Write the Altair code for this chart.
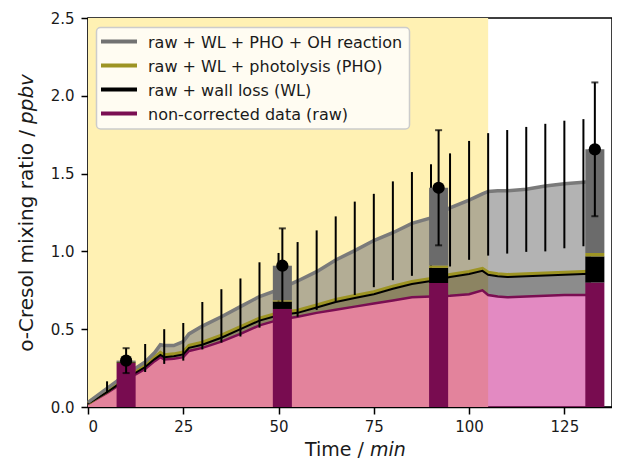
import altair as alt
import pandas as pd

# ---------------- data ----------------
t_series = [0, 2.5, 5, 7.5, 10, 12.5, 15, 17.5, 19, 20, 22.5, 25, 26.5, 30, 35, 40, 45, 50, 55, 60,
            65, 70, 75, 80, 85, 90, 95, 100, 103.5, 105, 107.5, 110, 115, 120, 125, 130, 132]
raw = [0.02, 0.055, 0.09, 0.13, 0.17, 0.21, 0.245, 0.295, 0.32, 0.305, 0.31, 0.32, 0.36, 0.38, 0.42,
       0.47, 0.525, 0.56, 0.58, 0.605, 0.625, 0.645, 0.665, 0.685, 0.705, 0.71, 0.715, 0.725, 0.75,
       0.72, 0.71, 0.705, 0.71, 0.715, 0.72, 0.72, 0.72]
wl = [0.021, 0.058, 0.095, 0.137, 0.178, 0.22, 0.257, 0.308, 0.335, 0.32, 0.326, 0.338, 0.38, 0.40,
      0.445, 0.50, 0.555, 0.59, 0.605, 0.64, 0.675, 0.70, 0.725, 0.76, 0.79, 0.81, 0.835, 0.855, 0.875,
      0.85, 0.84, 0.835, 0.84, 0.845, 0.85, 0.855, 0.857]
pho = [0.022, 0.062, 0.10, 0.145, 0.188, 0.232, 0.27, 0.321, 0.349, 0.334, 0.34, 0.352, 0.395, 0.415,
       0.46, 0.515, 0.57, 0.605, 0.62, 0.655, 0.69, 0.715, 0.74, 0.775, 0.805, 0.825, 0.85, 0.87, 0.89,
       0.865, 0.855, 0.85, 0.855, 0.86, 0.865, 0.87, 0.872]
oh = [0.03, 0.075, 0.12, 0.165, 0.21, 0.25, 0.29, 0.35, 0.40, 0.395, 0.395, 0.42, 0.47, 0.52, 0.58,
      0.645, 0.71, 0.755, 0.81, 0.87, 0.945, 1.005, 1.07, 1.12, 1.18, 1.215, 1.28, 1.33, 1.37, 1.385,
      1.39, 1.39, 1.40, 1.42, 1.435, 1.445, 1.45]

err_t = [5, 15, 20, 25, 30, 35, 40, 45, 50, 55, 60, 65, 70, 75, 80, 85, 90, 95, 100, 105, 110, 115,
         120, 125, 130]
err_lo = [0.09, 0.225, 0.277, 0.298, 0.37, 0.414, 0.453, 0.51, 0.55, 0.58, 0.624, 0.678, 0.72, 0.77,
          0.815, 0.843, 0.87, 0.903, 0.946, 0.973, 0.986, 0.997, 1.0, 1.02, 1.033]
err_hi = [0.165, 0.405, 0.50, 0.54, 0.675, 0.757, 0.826, 0.93, 0.99, 1.06, 1.135, 1.225, 1.32, 1.37,
          1.45, 1.51, 1.56, 1.63, 1.71, 1.76, 1.78, 1.80, 1.82, 1.84, 1.85]

bar_t = [10, 51, 92, 133]
bar_raw = [0.283, 0.63, 0.797, 0.80]
bar_wl = [0.288, 0.678, 0.894, 0.968]
bar_pho = [0.29, 0.686, 0.91, 0.99]
bar_oh = [0.298, 0.908, 1.409, 1.656]
pt_err = [0.08, 0.24, 0.37, 0.43]
bar_half = 2.5

shade_start = [0]
shade_end = [105]

legend_labels = ["raw + WL + PHO + OH reaction", "raw + WL + photolysis (PHO)",
                 "raw + wall loss (WL)", "non-corrected data (raw)"]
legend_colors = ["#727272", "#9d9424", "#000000", "#7a0e52"]

x_ticks = [0, 25, 50, 75, 100, 125]
y_ticks = [0, 0.5, 1.0, 1.5, 2.0, 2.5]

# ---------------- layout ----------------
W, H = 524, 389
XMAX, YMAX = 137.5, 2.5
FONT = "DejaVu Sans"
C_RAW_LINE = "#7a0e52"
C_OLIVE = "#9d9424"
C_GRAY_LINE = "#7a7a7a"

xscale = alt.Scale(domain=[0, XMAX], nice=False, zero=False)
yscale = alt.Scale(domain=[0, YMAX], nice=False)
xaxis = alt.Axis(values=x_ticks, title=None, format="d", labelPadding=5)
yaxis = alt.Axis(values=y_ticks, title=None, format=".1f", labelPadding=7)


def X(f):
    return alt.X(f, type="quantitative", scale=xscale, axis=xaxis, title=None)


def Y(f):
    return alt.Y(f, type="quantitative", scale=yscale, axis=yaxis, title=None)


series = pd.DataFrame({"t": t_series, "raw": raw, "wl": wl, "pho": pho, "oh": oh, "zero": 0.0})
errs = pd.DataFrame({"t": err_t, "lo": err_lo, "hi": err_hi})

seg_rows = []
seg_names = ["raw", "wl", "pho", "oh"]
for i, t in enumerate(bar_t):
    levels = [0.0, bar_raw[i], bar_wl[i], bar_pho[i], bar_oh[i]]
    for k, name in enumerate(seg_names):
        seg_rows.append({"x0": t - bar_half, "x1": t + bar_half, "lo": levels[k],
                         "hi": levels[k + 1], "seg": name})
bars = pd.DataFrame(seg_rows)
pts = pd.DataFrame({"t": bar_t, "v": bar_oh,
                    "lo": [v - e for v, e in zip(bar_oh, pt_err)],
                    "hi": [v + e for v, e in zip(bar_oh, pt_err)]})
shade = pd.DataFrame({"s": shade_start, "e": shade_end})

# background shade
bg = alt.Chart(shade).mark_rect(color="#fff1b3").encode(
    x=X("s"), x2="e", y=alt.value(0), y2=alt.value(H))

base = alt.Chart(series)
area_raw = base.mark_area(color="mediumvioletred", opacity=0.5).encode(x=X("t"), y=Y("zero"), y2="raw")
area_wl = base.mark_area(color="#000000", opacity=0.45).encode(x=X("t"), y=Y("raw"), y2="wl")
area_pho = base.mark_area(color=C_OLIVE, opacity=0.6).encode(x=X("t"), y=Y("wl"), y2="pho")
area_oh = base.mark_area(color="#808080", opacity=0.6).encode(x=X("t"), y=Y("pho"), y2="oh")

line_raw = base.mark_line(color=C_RAW_LINE, strokeWidth=2.5).encode(x=X("t"), y=Y("raw"))
line_pho = base.mark_line(color=C_OLIVE, strokeWidth=3.5).encode(x=X("t"), y=Y("pho"))
line_wl = base.mark_line(color="#000000", strokeWidth=2).encode(x=X("t"), y=Y("wl"))
line_oh = base.mark_line(color=C_GRAY_LINE, strokeWidth=3.5).encode(x=X("t"), y=Y("oh"))

err_rules = alt.Chart(errs).mark_rule(color="black", strokeWidth=2).encode(
    x=X("t"), y=Y("lo"), y2="hi")

bar_layer = alt.Chart(bars).mark_rect().encode(
    x=X("x0"), x2="x1", y=Y("lo"), y2="hi",
    color=alt.Color("seg:N", scale=alt.Scale(domain=seg_names,
                                             range=["#780c50", "#000000", C_OLIVE, "#6b6b6b"]),
                    legend=None))

pt_rules = alt.Chart(pts).mark_rule(color="black", strokeWidth=2).encode(x=X("t"), y=Y("lo"), y2="hi")
cap_lo = alt.Chart(pts).mark_tick(color="black", orient="horizontal", size=7, thickness=2).encode(
    x=X("t"), y=Y("lo"))
cap_hi = alt.Chart(pts).mark_tick(color="black", orient="horizontal", size=7, thickness=2).encode(
    x=X("t"), y=Y("hi"))
points = alt.Chart(pts).mark_circle(color="black", size=150, opacity=1).encode(x=X("t"), y=Y("v"))

# legend (drawn by hand so that the line symbols are long like the original)
one = pd.DataFrame({"a": [0]})
legend_layers = [
    alt.Chart(one).mark_rect(fill="#fffcf2", stroke="#cccccc", strokeWidth=1.5, cornerRadius=4).encode(
        x=alt.value(8.5), x2=alt.value(321.5), y=alt.value(9.5), y2=alt.value(111))
]
row_y = [23.5, 47.5, 71.5, 95.5]
for lab, col, ry in zip(legend_labels, legend_colors, row_y):
    legend_layers.append(alt.Chart(one).mark_rule(color=col, strokeWidth=4).encode(
        x=alt.value(13), x2=alt.value(49), y=alt.value(ry)))
    legend_layers.append(alt.Chart(one).mark_text(align="left", baseline="middle", font=FONT,
                                                  fontSize=16, color="#1a1a1a").encode(
        x=alt.value(60), y=alt.value(ry + 1), text=alt.value(lab)))

# axis titles with italic units
xt_split = 282
x_title_y = 438
y_split = 106
titles = [
    alt.Chart(one).mark_text(align="right", baseline="alphabetic", font=FONT, fontSize=19,
                             color="#1a1a1a").encode(
        x=alt.value(xt_split - 6), y=alt.value(x_title_y), text=alt.value("Time /")),
    alt.Chart(one).mark_text(align="left", baseline="alphabetic", font=FONT, fontSize=19,
                             fontStyle="italic", color="#1a1a1a").encode(
        x=alt.value(xt_split), y=alt.value(x_title_y), text=alt.value("min")),
    alt.Chart(one).mark_text(align="right", baseline="alphabetic", font=FONT, fontSize=20, angle=270,
                             color="#1a1a1a").encode(
        x=alt.value(-55), y=alt.value(y_split + 6), text=alt.value("o-Cresol mixing ratio /")),
    alt.Chart(one).mark_text(align="left", baseline="alphabetic", font=FONT, fontSize=20, angle=270,
                             fontStyle="italic", color="#1a1a1a").encode(
        x=alt.value(-55), y=alt.value(y_split), text=alt.value("ppbv")),
]

chart = alt.layer(
    bg, area_raw, area_wl, area_pho, area_oh,
    line_raw, line_pho, line_wl, line_oh,
    err_rules, bar_layer, pt_rules, cap_lo, cap_hi, points,
    *legend_layers, *titles
).properties(
    width=W, height=H,
    autosize=alt.AutoSizeParams(type="none"),
    padding={"left": 80, "top": 10, "right": 0, "bottom": 55},
).configure_view(
    stroke="black", strokeWidth=1.5
).configure_axis(
    grid=False, domainColor="black", domainWidth=1.5, tickColor="black", tickWidth=1.5, tickSize=7,
    labelFont=FONT, labelFontSize=15, labelColor="#1a1a1a"
)

chart.save("out.html", embed_options={"renderer": "svg", "actions": False})
